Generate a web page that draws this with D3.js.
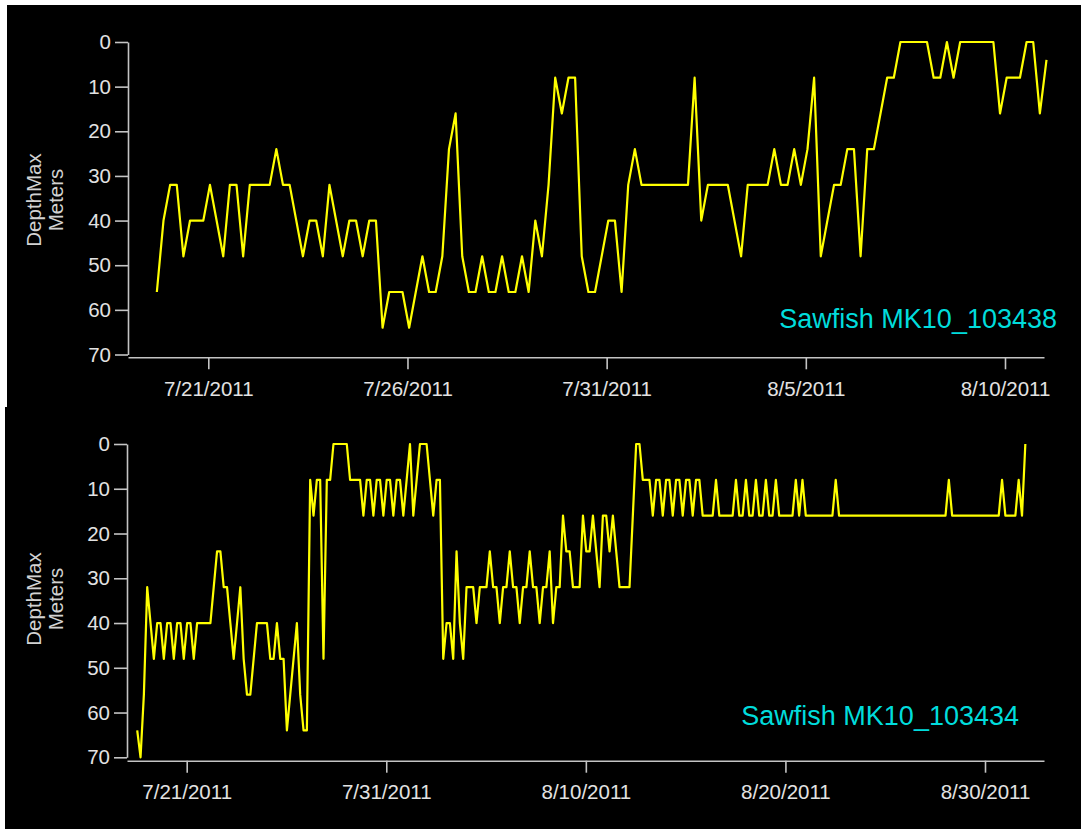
<!DOCTYPE html>
<html><head><meta charset="utf-8">
<script src="https://cdn.jsdelivr.net/npm/d3@7"></script>
<style>
body{margin:0;background:#ffffff;}
svg{display:block;}
text{font-family:Arial,"Liberation Sans",sans-serif;}
</style>
</head><body>
<svg id="c" width="1081" height="829"></svg>
<script>
// ---------- data ----------
const depthTicks = [0, 10, 20, 30, 40, 50, 60, 70];
const stepHours = 4;

const topTitle = "Sawfish MK10_103438";
const topStart = "2011-07-19T17:00:00Z";
const topDateTicks = ["2011-07-21", "2011-07-26", "2011-07-31", "2011-08-05", "2011-08-10"];
const topDepth = [
  56,40,32,32,48,40,40,40,32,40, 48,32,32,48,32,32,32,32,24,32,
  32,40,48,40,40,48,32,40,48,40, 40,48,40,40,64,56,56,56,64,56,
  48,56,56,48,24,16,48,56,56,48, 56,56,48,56,56,48,56,40,48,32,
  8,16,8,8,48,56,56,48,40,40, 56,32,24,32,32,32,32,32,32,32,
  32,8,40,32,32,32,32,40,48,32, 32,32,32,24,32,32,24,32,24,8,
  48,40,32,32,24,24,48,24,24,16, 8,8,0,0,0,0,0,8,8,0,
  8,0,0,0,0,0,0,16,8,8, 8,0,0,16,4
];

const botTitle = "Sawfish MK10_103434";
const botStart = "2011-07-18T12:30:00Z";
const botDateTicks = ["2011-07-21", "2011-07-31", "2011-08-10", "2011-08-20", "2011-08-30"];
const botDepth = [
  64,70,56,32,40,48,40,40,48,40, 40,48,40,40,48,40,40,48,40,40,
  40,40,40,32,24,24,32,32,40,48, 40,32,48,56,56,48,40,40,40,40,
  48,48,40,48,48,64,56,48,40,56, 64,64,8,16,8,8,48,8,8,0,
  0,0,0,0,8,8,8,8,16,8, 8,16,8,8,16,8,8,16,8,8,
  16,8,0,16,8,0,0,0,8,16, 8,8,48,40,40,48,24,40,48,32,
  32,32,40,32,32,32,24,32,32,40, 32,32,24,32,32,40,32,32,24,32,
  32,40,32,32,24,40,32,32,16,24, 24,32,32,32,16,24,24,16,24,32,
  16,16,24,16,24,32,32,32,32,16, 0,0,8,8,8,16,8,8,16,8,
  8,16,8,8,16,8,8,16,8,8, 16,16,16,16,8,16,16,16,16,16,
  8,16,16,8,16,16,8,16,16,8, 16,16,8,16,16,16,16,16,8,16,
  8,16,16,16,16,16,16,16,16,16, 8,16,16,16,16,16,16,16,16,16,
  16,16,16,16,16,16,16,16,16,16, 16,16,16,16,16,16,16,16,16,16,
  16,16,16,16,8,16,16,16,16,16, 16,16,16,16,16,16,16,16,16,16,
  8,16,16,16,16,8,16,0
];

// ---------- layout ----------
const panels = [
  { title: topTitle, start: topStart, depth: topDepth, ticks: topDateTicks,
    bg: [7, 5, 1074, 402],
    axisLeft: 128, axisRight: 1044, axisY: 357.3,
    tickPx: [208.3, 1005], yTop: 42, yBot: 354.5,
    yTitleY: 200, titleX: 1057, titleY: 328 },
  { title: botTitle, start: botStart, depth: botDepth, ticks: botDateTicks,
    bg: [5, 407, 1076, 422],
    axisLeft: 127, axisRight: 1044, axisY: 760.7,
    tickPx: [186.7, 985], yTop: 444, yBot: 757.3,
    yTitleY: 599, titleX: 1019, titleY: 725 }
];

const svg = d3.select("#c");
const parse = d3.utcParse("%Y-%m-%d");
const fmt = d3.utcFormat("%-m/%-d/%Y");
const axisColor = "#c4c4c4";
const textColor = "#e2e2e2";

panels.forEach(p => {
  const g = svg.append("g");
  g.append("rect").attr("x", p.bg[0]).attr("y", p.bg[1])
    .attr("width", p.bg[2]).attr("height", p.bg[3]).attr("fill", "#000");

  const tickDates = p.ticks.map(parse);
  const x = d3.scaleUtc()
    .domain([tickDates[0], tickDates[tickDates.length - 1]])
    .range(p.tickPx);
  x.domain([x.invert(p.axisLeft), x.invert(p.axisRight)]).range([p.axisLeft, p.axisRight]);

  const y = d3.scaleLinear().domain([0, 70]).range([p.yTop, p.yBot]);

  const t0 = new Date(p.start).getTime();
  const pts = p.depth.map((v, i) => ({ t: new Date(t0 + i * stepHours * 3600e3), v }));

  // y axis
  const ya = g.append("g").attr("transform", `translate(${p.axisLeft},0)`)
    .call(d3.axisLeft(y).tickValues(depthTicks).tickSize(13).tickSizeOuter(0).tickPadding(4));
  // x axis
  const xa = g.append("g").attr("transform", `translate(0,${p.axisY})`)
    .call(d3.axisBottom(x).tickValues(tickDates).tickFormat(fmt).tickSize(12).tickSizeOuter(0).tickPadding(12));

  [ya, xa].forEach(a => {
    a.select(".domain").attr("stroke", axisColor).attr("stroke-width", 1.6);
    a.selectAll(".tick line").attr("stroke", axisColor).attr("stroke-width", 1.6);
    a.selectAll(".tick text").attr("fill", textColor).style("font-size", "20.5px")
      .style("font-family", "Arial, 'Liberation Sans', sans-serif");
  });

  // y axis title (two lines, rotated)
  const yt = g.append("text")
    .attr("transform", `translate(41,${p.yTitleY}) rotate(-90)`)
    .attr("text-anchor", "middle").attr("fill", "#d2d2d2").style("font-size", "20.5px");
  yt.append("tspan").attr("x", 0).attr("dy", 0).text("DepthMax");
  yt.append("tspan").attr("x", 0).attr("dy", "1.05em").text("Meters");

  // series
  g.append("path").datum(pts)
    .attr("fill", "none").attr("stroke", "#ffff00").attr("stroke-width", 2.2)
    .attr("stroke-linejoin", "round")
    .attr("d", d3.line().x(d => x(d.t)).y(d => y(d.v)));

  // panel label
  g.append("text").attr("x", p.titleX).attr("y", p.titleY)
    .attr("text-anchor", "end").attr("fill", "#00dcdc")
    .style("font-size", "27px").text(p.title);
});
</script>
</body></html>
